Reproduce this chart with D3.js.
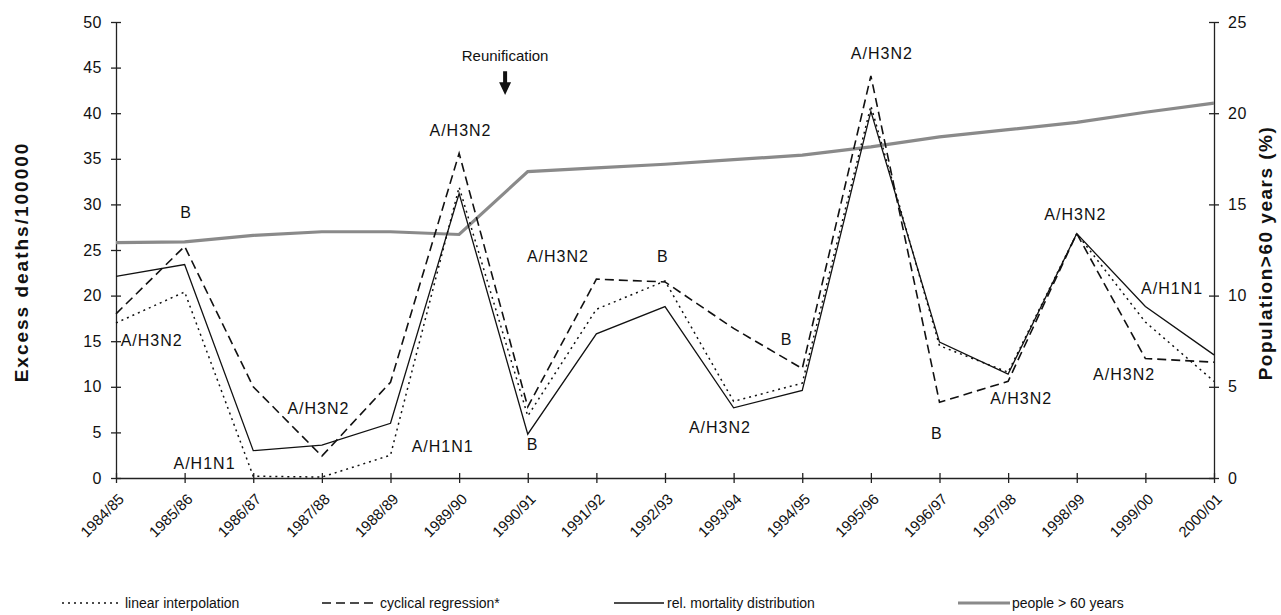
<!DOCTYPE html>
<html>
<head>
<meta charset="utf-8">
<script src="https://cdn.jsdelivr.net/npm/d3@7"></script>
<style>
  body { margin: 0; background: #fff; }
  text { font-family: "Liberation Sans", Arial, sans-serif; fill: #111; }
</style>
</head>
<body>
<div class="visual"></div>
<script>
// data
const categories = ["1984/85","1985/86","1986/87","1987/88","1988/89","1989/90","1990/91","1991/92","1992/93",
  "1993/94","1994/95","1995/96","1996/97","1997/98","1998/99","1999/00","2000/01"];
const linearInterp = [17.0, 20.4, 0.2, 0.1, 2.5, 31.9, 6.8, 18.5, 21.6, 8.4, 10.4, 40.8, 14.5, 11.6, 26.8, 17.1, 10.6];
const cyclicalReg  = [18.0, 25.4, 10.0, 2.4, 10.5, 35.6, 7.8, 21.8, 21.5, 16.4, 12.0, 44.1, 8.3, 10.6, 26.8, 13.1, 12.7];
const relMortality = [22.1, 23.4, 3.0, 3.6, 6.0, 31.2, 4.8, 15.8, 18.8, 7.7, 9.6, 40.2, 14.9, 11.4, 26.8, 18.8, 13.5];
const people60     = [12.9, 12.95, 13.3, 13.5, 13.5, 13.35, 16.8, 17.0, 17.2, 17.45, 17.7, 18.15, 18.7, 19.1, 19.5, 20.05, 20.55];
const leftTicks = [0,5,10,15,20,25,30,35,40,45,50];
const rightTicks = [0,5,10,15,20,25];
// strain labels: [text, category position, excess deaths]
const strainLabels = [
  ["B",1.02,29.2],["A/H3N2",0.52,15.1],["A/H3N2",2.95,7.7],["A/H1N1",1.29,1.6],["A/H1N1",4.76,3.5],
  ["A/H3N2",5.02,38.2],["A/H3N2",6.44,24.3],["B",7.97,24.3],["A/H3N2",8.8,5.6],["B",6.07,3.7],
  ["B",9.77,15.2],["A/H3N2",11.16,46.6],["A/H3N2",13.98,29.0],["A/H1N1",15.39,20.8],["A/H3N2",14.69,11.4],
  ["A/H3N2",13.19,8.8],["B",11.96,4.9]
];
const legendNames = ["linear interpolation","cyclical regression*","rel. mortality distribution","people > 60 years"];

const width = 1281, height = 615;
const svg = d3.select(".visual").append("svg").attr("width", width).attr("height", height);

const x = d3.scalePoint().domain(categories).range([116, 1214]);
const step = x.step();
const xf = i => x(categories[0]) + i * step;
const yL = d3.scaleLinear().domain([0, 50]).range([478, 22]);
const yR = d3.scaleLinear().domain([0, 25]).range([478, 22]);

// axes
const gL = svg.append("g").attr("transform", "translate(116,0)")
  .call(d3.axisLeft(yL).tickValues(leftTicks).tickSizeInner(5).tickSizeOuter(0).tickPadding(9));
gL.selectAll(".tick line").attr("x1", 5);
const gR = svg.append("g").attr("transform", "translate(1214,0)")
  .call(d3.axisRight(yR).tickValues(rightTicks).tickSizeInner(5).tickSizeOuter(0).tickPadding(9));
gR.selectAll(".tick line").attr("x1", -5);
const gX = svg.append("g").attr("transform", "translate(0,478)")
  .call(d3.axisBottom(x).tickSizeInner(5).tickSizeOuter(0).tickFormat(""));
gX.selectAll(".tick line").attr("y1", -5);
svg.selectAll(".domain, .tick line").attr("stroke", "#222").attr("stroke-width", 1.3);
svg.selectAll(".tick text").style("font-size", "16px").style("letter-spacing", "0.5px").attr("fill", "#111");

// rotated category labels
svg.selectAll(".xlab").data(categories).enter().append("text")
  .attr("class", "xlab")
  .attr("transform", d => "translate(" + (x(d) + 9) + ",500) rotate(-45)")
  .attr("text-anchor", "end")
  .style("font-size", "15px")
  .text(d => d);

// axis titles
svg.append("text")
  .attr("transform", "translate(28,262) rotate(-90)")
  .attr("text-anchor", "middle")
  .style("font-size", "19px").style("font-weight", "bold").style("letter-spacing", "2px")
  .text("Excess deaths/100000");
svg.append("text")
  .attr("transform", "translate(1272,253) rotate(-90)")
  .attr("text-anchor", "middle")
  .style("font-size", "19px").style("font-weight", "bold").style("letter-spacing", "1.5px")
  .text("Population>60 years (%)");

// lines
const lineL = d3.line().x((d, i) => x(categories[i])).y(d => yL(d));
const lineR = d3.line().x((d, i) => x(categories[i])).y(d => yR(d));

svg.append("path").datum(people60).attr("d", lineR)
  .attr("fill", "none").attr("stroke", "#8a8a8a").attr("stroke-width", 3.2);
svg.append("path").datum(linearInterp).attr("d", lineL)
  .attr("fill", "none").attr("stroke", "#111").attr("stroke-width", 1.5).attr("stroke-dasharray", "2,4");
svg.append("path").datum(cyclicalReg).attr("d", lineL)
  .attr("fill", "none").attr("stroke", "#111").attr("stroke-width", 1.6).attr("stroke-dasharray", "9,5");
svg.append("path").datum(relMortality).attr("d", lineL)
  .attr("fill", "none").attr("stroke", "#111").attr("stroke-width", 1.3);

// strain annotations
svg.selectAll(".strain").data(strainLabels).enter().append("text")
  .attr("class", "strain")
  .attr("x", d => xf(d[1]))
  .attr("y", d => yL(d[2]) + 6)
  .attr("text-anchor", "middle")
  .style("font-size", "16px").style("letter-spacing", "1px")
  .text(d => d[0]);

// reunification marker
const rx = xf(5.67);
svg.append("text").attr("x", rx).attr("y", yL(46.3) + 5).attr("text-anchor", "middle")
  .style("font-size", "15px").text("Reunification");
svg.append("path")
  .attr("d", "M" + (rx - 2) + "," + yL(44.6) + "V" + yL(43.4) + "H" + (rx - 6) + "L" + rx + "," + yL(42.0)
    + "L" + (rx + 6) + "," + yL(43.4) + "H" + (rx + 2) + "V" + yL(44.6) + "Z")
  .attr("fill", "#111");

// legend
const legendX = [[62, 120, 125], [322, 378, 380], [614, 664, 667], [958, 1010, 1012]];
const legendStyle = [
  {dash: "2,4", w: 1.5, c: "#111"}, {dash: "9,5", w: 1.6, c: "#111"},
  {dash: null, w: 1.3, c: "#111"}, {dash: null, w: 3.2, c: "#8a8a8a"}
];
const legend = svg.selectAll(".legend").data(legendNames).enter().append("g").attr("class", "legend");
legend.append("line")
  .attr("x1", (d, i) => legendX[i][0]).attr("x2", (d, i) => legendX[i][1])
  .attr("y1", 603).attr("y2", 603)
  .attr("stroke", (d, i) => legendStyle[i].c)
  .attr("stroke-width", (d, i) => legendStyle[i].w)
  .attr("stroke-dasharray", (d, i) => legendStyle[i].dash);
legend.append("text")
  .attr("x", (d, i) => legendX[i][2]).attr("y", 608)
  .style("font-size", "14px")
  .text(d => d);
</script>
</body>
</html>
